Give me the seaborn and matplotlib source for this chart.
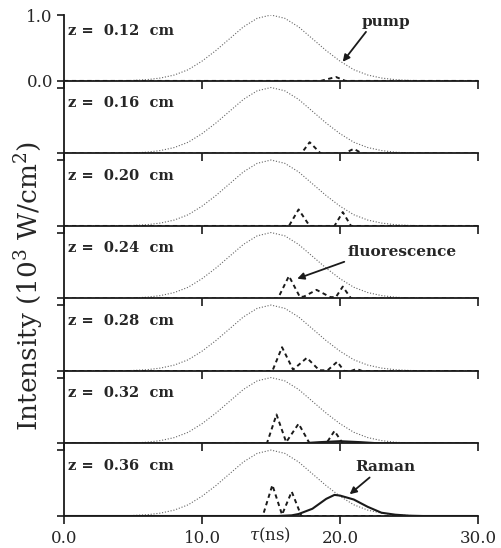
import numpy as np
import pandas as pd
import matplotlib
matplotlib.use("Agg")
import matplotlib.pyplot as plt
import seaborn as sns

# --- data ---
z_labels = ["z =  0.12  cm", "z =  0.16  cm", "z =  0.20  cm", "z =  0.24  cm",
            "z =  0.28  cm", "z =  0.32  cm", "z =  0.36  cm"]

# pump pulse (same in every panel), sampled every 1 ns
pump_t = list(range(0, 31))
pump_i = [0, 0, 0, 0, 0, 0.008, 0.019, 0.044, 0.09, 0.17, 0.30, 0.46, 0.64, 0.82, 0.95, 1.0,
          0.95, 0.82, 0.64, 0.46, 0.30, 0.17, 0.09, 0.044, 0.019, 0.008, 0.003, 0.001, 0, 0, 0]

# fluorescence, one list per panel
fluor_t = [
    [0, 18.6, 19.7, 20.4, 30],
    [0, 17.2, 17.8, 18.6, 20.3, 21.0, 21.6, 30],
    [0, 16.3, 17.0, 17.8, 19.6, 20.2, 20.8, 30],
    [0, 15.5, 16.3, 17.1, 17.4, 18.3, 19.3, 19.7, 20.2, 20.8, 30],
    [0, 15.1, 15.8, 16.6, 17.6, 18.5, 19.1, 19.8, 20.3, 20.8, 21.2, 21.6, 30],
    [0, 14.7, 15.4, 16.1, 17.0, 17.8, 19.0, 19.6, 20.2, 30],
    [0, 14.4, 15.1, 15.8, 16.5, 17.2, 30],
]
fluor_i = [
    [0, 0, 0.06, 0, 0],
    [0, 0, 0.17, 0, 0, 0.07, 0, 0],
    [0, 0, 0.25, 0, 0, 0.21, 0, 0],
    [0, 0, 0.34, 0.02, 0.03, 0.13, 0.02, 0.02, 0.18, 0, 0],
    [0, 0, 0.36, 0.02, 0.20, 0.01, 0.01, 0.14, 0, 0, 0.03, 0, 0],
    [0, 0, 0.44, 0.02, 0.30, 0, 0, 0.19, 0, 0],
    [0, 0, 0.47, 0.02, 0.37, 0, 0],
]

# Raman, only visible in the last two panels
raman_t_032 = [0, 17.0, 18.5, 20.0, 21.5, 23.0, 30]
raman_i_032 = [0, 0, 0.02, 0.035, 0.02, 0, 0]
raman_t_036 = [0, 15.5, 16.5, 17, 18, 19, 19.6, 20, 21, 22, 23, 24, 25, 26, 30]
raman_i_036 = [0, 0, 0.01, 0.03, 0.11, 0.26, 0.32, 0.31, 0.25, 0.14, 0.05, 0.02, 0.005, 0, 0]

xticks = [0, 10, 20, 30]
xticklabels = ["0.0", "10.0", "20.0", "30.0"]

sns.set_theme(style="ticks")
plt.rcParams['font.family'] = ['DejaVu Serif']
plt.rcParams['mathtext.fontset'] = 'dejavuserif'

fig = plt.figure(figsize=(5.01, 5.48), dpi=100)
gs = fig.add_gridspec(7, 1, height_ratios=[1.0] + [1.1] * 6, hspace=0,
                      left=64 / 501, right=478 / 501, top=1 - 15 / 548, bottom=1 - 516 / 548)

axes = []
for k in range(7):
    ax = fig.add_subplot(gs[k, 0])
    axes.append(ax)
    sns.lineplot(x=pump_t, y=pump_i, ax=ax, color='0.4', lw=0.8,
                 linestyle=(0, (1, 1.6)), estimator=None, sort=False)
    sns.lineplot(x=fluor_t[k], y=fluor_i[k], ax=ax, color='k', lw=1.4,
                 linestyle=(0, (2.2, 1.8)), estimator=None, sort=False)
    if k == 5:
        sns.lineplot(x=raman_t_032, y=raman_i_032, ax=ax, color='k', lw=1.5,
                     estimator=None, sort=False)
    if k == 6:
        sns.lineplot(x=raman_t_036, y=raman_i_036, ax=ax, color='k', lw=1.5,
                     estimator=None, sort=False)

    ax.set_xlim(0, 30)
    ax.set_ylim(0, 1.0 if k == 0 else 1.1)
    for s in ['top', 'right']:
        ax.spines[s].set_visible(False)
    for s in ['left', 'bottom']:
        ax.spines[s].set_linewidth(1.3)
        ax.spines[s].set_color('k')
    ax.set_xticks(xticks)
    ax.set_yticks([0, 1])
    ax.tick_params(axis='x', direction='out', length=6, width=1.2, color='k', pad=4,
                   labelsize=12)
    ax.tick_params(axis='y', direction='out', length=5, width=1.2, color='k', pad=3,
                   labelsize=12)
    if k == 0:
        ax.set_yticklabels(["0.0", "1.0"])
    else:
        ax.set_yticklabels([])
    if k == 6:
        ax.set_xticklabels(xticklabels)
    else:
        ax.set_xticklabels([])
    ax.set_xlabel('')
    ax.set_ylabel('')
    ax.text(0.3, 0.76, z_labels[k], fontsize=10.5, fontweight='bold', va='center', ha='left')
    ax.patch.set_alpha(0)

# annotations
arrow = dict(arrowstyle='-|>', color='k', lw=1.3, mutation_scale=10, shrinkA=0, shrinkB=0)
axes[0].annotate('pump', xy=(20.2, 0.29), xytext=(23.3, 0.9), fontsize=11, fontweight='bold',
                 ha='center', va='center', arrowprops=dict(arrow, relpos=(0.15, 0.0)))
axes[3].annotate('fluorescence', xy=(16.9, 0.30), xytext=(24.5, 0.71), fontsize=11,
                 fontweight='bold', ha='center', va='center',
                 arrowprops=dict(arrow, relpos=(0.05, 0.0)))
axes[6].annotate('Raman', xy=(20.7, 0.33), xytext=(23.3, 0.74), fontsize=11, fontweight='bold',
                 ha='center', va='center', arrowprops=dict(arrow, relpos=(0.3, 0.0)))

axes[6].text(14.9, -0.27, r'$\tau$(ns)', fontsize=12, ha='center', va='center',
             transform=axes[6].get_xaxis_transform())

fig.text(29 / 501, 1 - 286 / 548, r'Intensity (10$^{3}$ W/cm$^{2}$)', rotation=90,
         fontsize=19, ha='center', va='center')

fig.savefig('out.png', dpi=100)
